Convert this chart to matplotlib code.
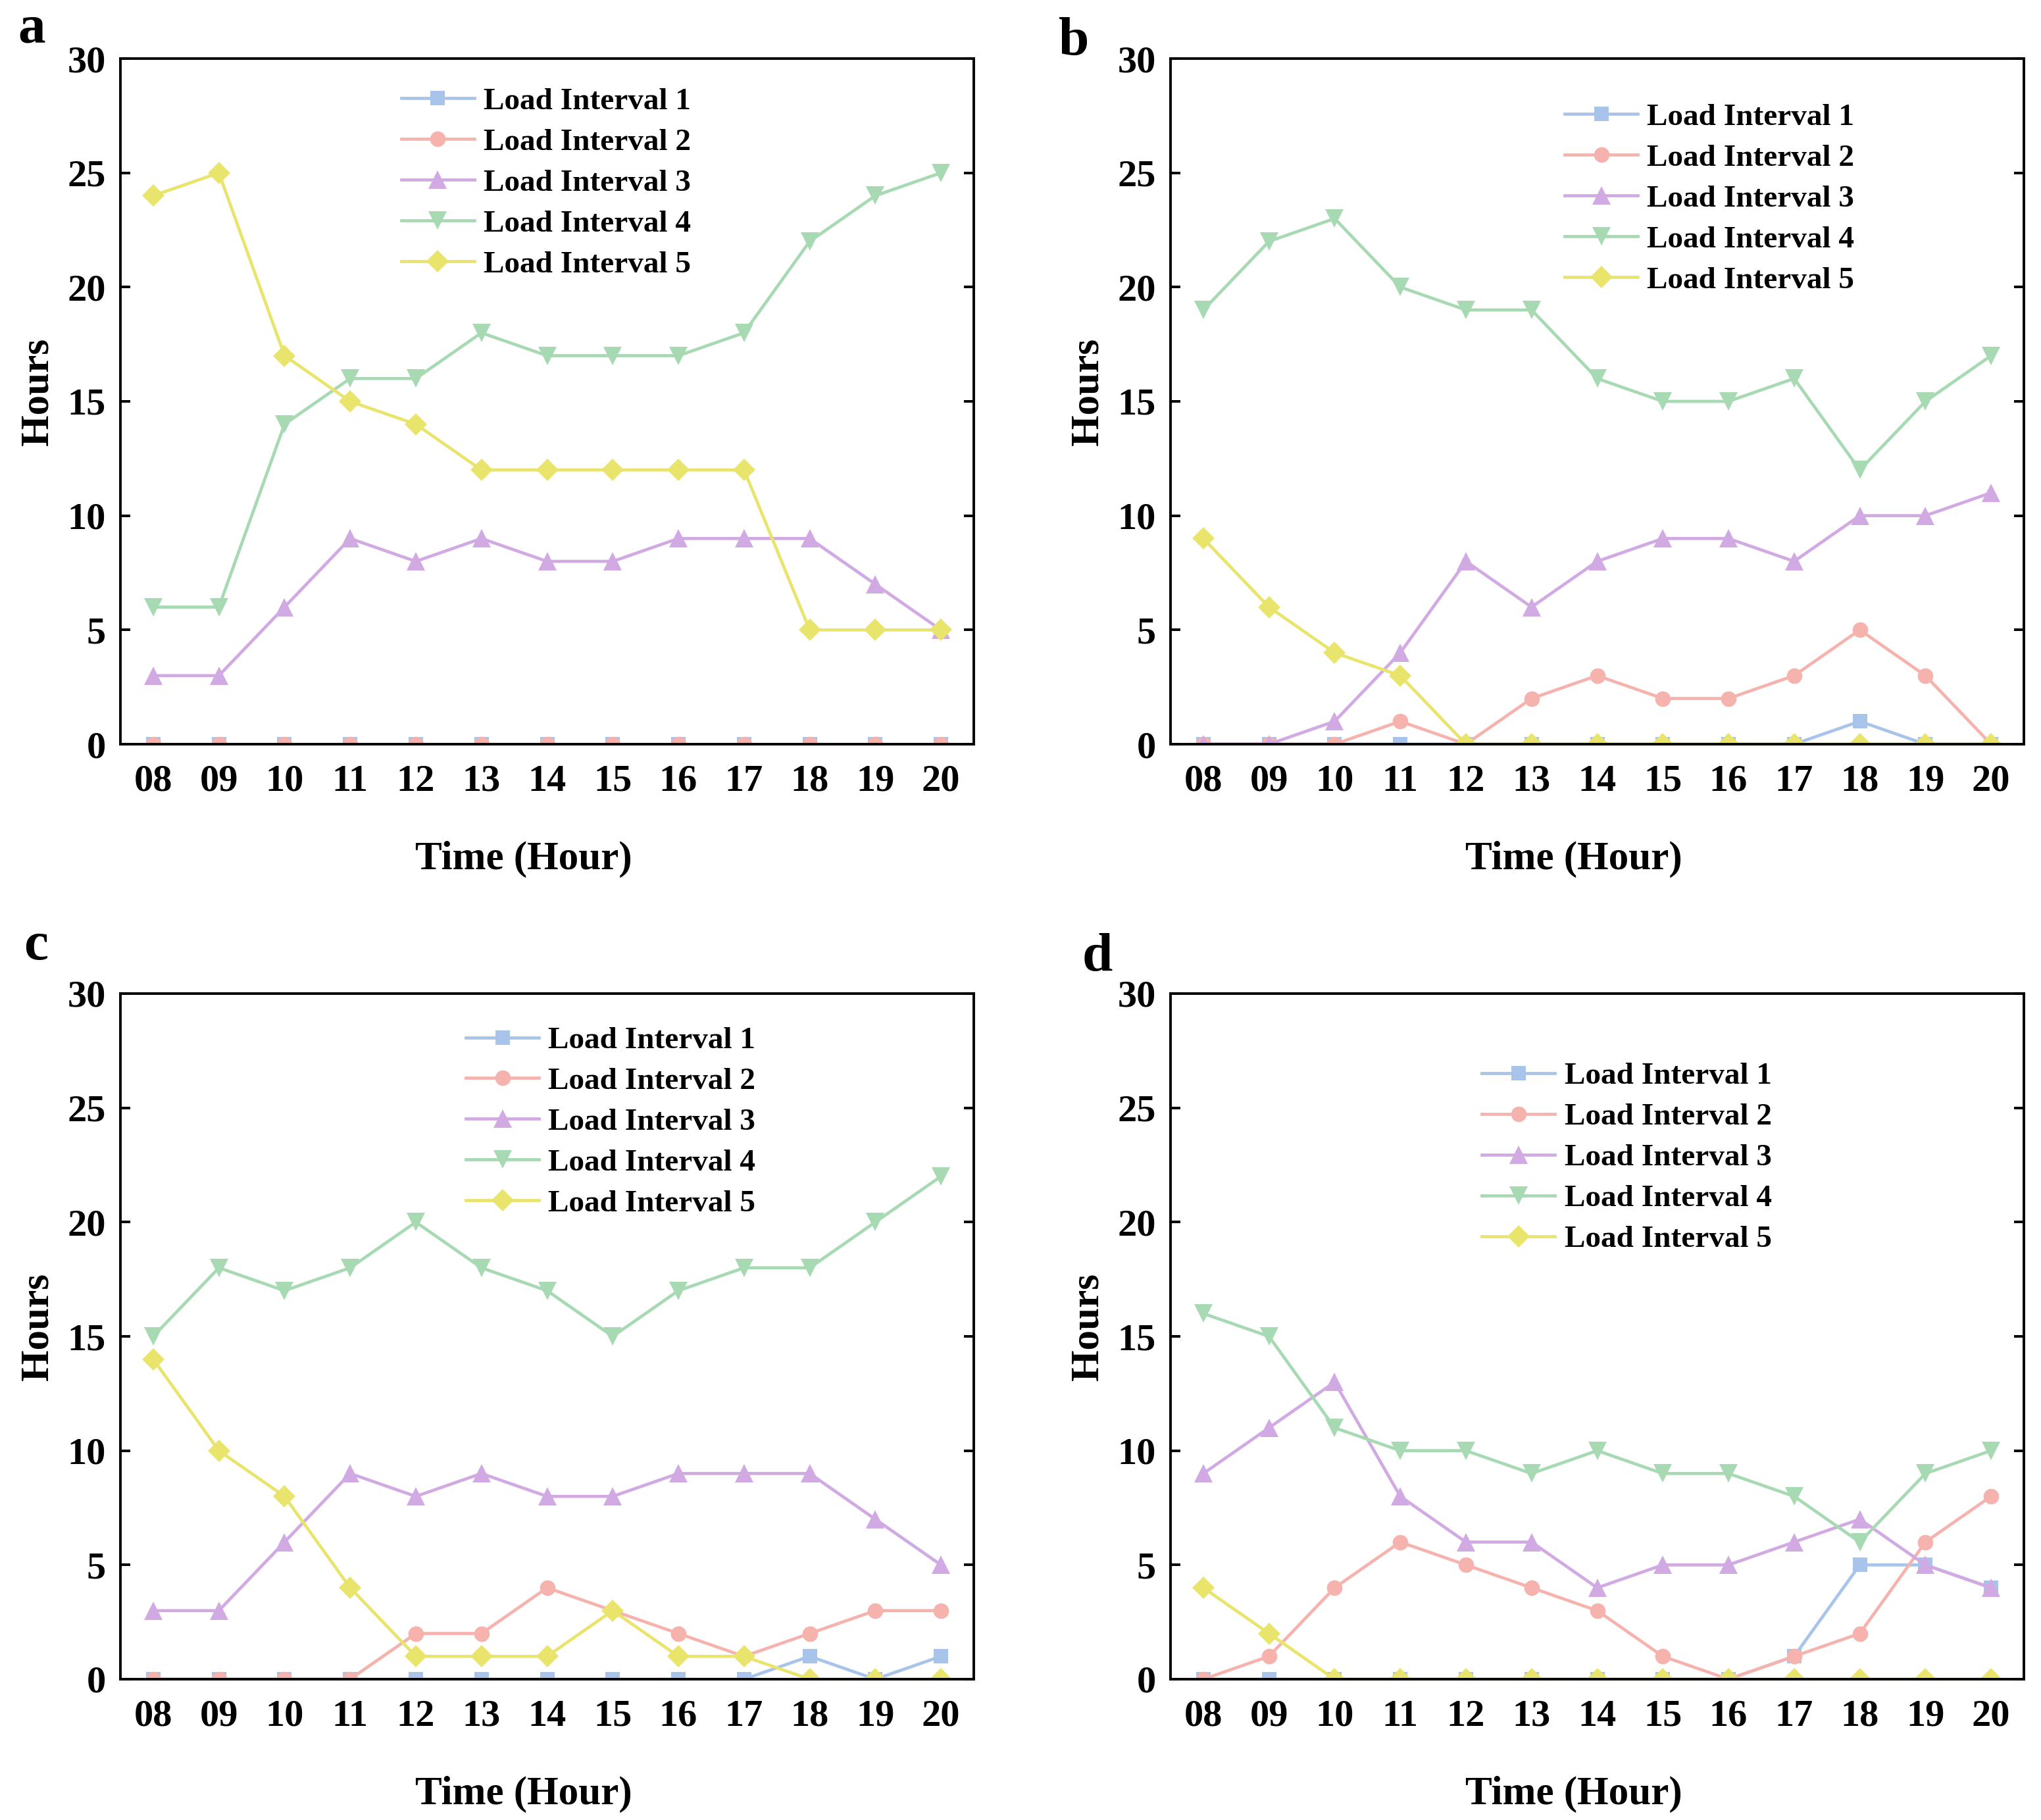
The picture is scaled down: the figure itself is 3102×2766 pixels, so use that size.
import numpy as np
import matplotlib
matplotlib.use("Agg")
import matplotlib.pyplot as plt

hours = ["08", "09", "10", "11", "12", "13", "14", "15", "16", "17", "18", "19", "20"]
series_names = ["Load Interval 1", "Load Interval 2", "Load Interval 3", "Load Interval 4", "Load Interval 5"]

a_l1 = [0, 0, 0, 0, 0, 0, 0, 0, 0, 0, 0, 0, 0]
a_l2 = [0, 0, 0, 0, 0, 0, 0, 0, 0, 0, 0, 0, 0]
a_l3 = [3, 3, 6, 9, 8, 9, 8, 8, 9, 9, 9, 7, 5]
a_l4 = [6, 6, 14, 16, 16, 18, 17, 17, 17, 18, 22, 24, 25]
a_l5 = [24, 25, 17, 15, 14, 12, 12, 12, 12, 12, 5, 5, 5]

b_l1 = [0, 0, 0, 0, 0, 0, 0, 0, 0, 0, 1, 0, 0]
b_l2 = [0, 0, 0, 1, 0, 2, 3, 2, 2, 3, 5, 3, 0]
b_l3 = [0, 0, 1, 4, 8, 6, 8, 9, 9, 8, 10, 10, 11]
b_l4 = [19, 22, 23, 20, 19, 19, 16, 15, 15, 16, 12, 15, 17]
b_l5 = [9, 6, 4, 3, 0, 0, 0, 0, 0, 0, 0, 0, 0]

c_l1 = [0, 0, 0, 0, 0, 0, 0, 0, 0, 0, 1, 0, 1]
c_l2 = [0, 0, 0, 0, 2, 2, 4, 3, 2, 1, 2, 3, 3]
c_l3 = [3, 3, 6, 9, 8, 9, 8, 8, 9, 9, 9, 7, 5]
c_l4 = [15, 18, 17, 18, 20, 18, 17, 15, 17, 18, 18, 20, 22]
c_l5 = [14, 10, 8, 4, 1, 1, 1, 3, 1, 1, 0, 0, 0]

d_l1 = [0, 0, 0, 0, 0, 0, 0, 0, 0, 1, 5, 5, 4]
d_l2 = [0, 1, 4, 6, 5, 4, 3, 1, 0, 1, 2, 6, 8]
d_l3 = [9, 11, 13, 8, 6, 6, 4, 5, 5, 6, 7, 5, 4]
d_l4 = [16, 15, 11, 10, 10, 9, 10, 9, 9, 8, 6, 9, 10]
d_l5 = [4, 2, 0, 0, 0, 0, 0, 0, 0, 0, 0, 0, 0]

panels = {
    "a": [a_l1, a_l2, a_l3, a_l4, a_l5],
    "b": [b_l1, b_l2, b_l3, b_l4, b_l5],
    "c": [c_l1, c_l2, c_l3, c_l4, c_l5],
    "d": [d_l1, d_l2, d_l3, d_l4, d_l5],
}

colors = ["#a8c4ea", "#f6b3ad", "#d1aae3", "#a7d9b3", "#e9e46c"]
markers = ["s", "o", "^", "v", "D"]
msizes = [8, 8.5, 10, 10, 8.5]

plt.rcParams["font.family"] = ["Liberation Serif", "DejaVu Serif"]
plt.rcParams["font.weight"] = "bold"

W, H = 3102, 2766
dpi = 200
fig = plt.figure(figsize=(W / dpi, H / dpi), dpi=dpi)

ax_w = 1297 / W
ax_h = 1042 / H
positions = {
    "a": (183 / W, 1 - 1131 / H),
    "b": (1779 / W, 1 - 1131 / H),
    "c": (183 / W, 1 - 2552 / H),
    "d": (1779 / W, 1 - 2552 / H),
}
legend_anchor = {
    "a": (0.329, 0.958),
    "b": (0.462, 0.935),
    "c": (0.405, 0.952),
    "d": (0.365, 0.900),
}
letter_pos = {
    "a": (48 / W, 1 - 45 / H),
    "b": (1632 / W, 1 - 63 / H),
    "c": (55 / W, 1 - 1438 / H),
    "d": (1668 / W, 1 - 1455 / H),
}

x = np.arange(len(hours))
for key, data in panels.items():
    l, b = positions[key]
    ax = fig.add_axes([l, b, ax_w, ax_h])
    for i, vals in enumerate(data):
        ax.plot(x, vals, color=colors[i], marker=markers[i], markersize=msizes[i],
                markeredgewidth=0, linewidth=1.7, label=series_names[i])
    ax.set_xlim(-0.5, 12.5)
    ax.set_ylim(0, 30)
    ax.set_xticks(x)
    ax.set_xticklabels(hours)
    ax.set_yticks(np.arange(0, 31, 5))
    ax.tick_params(axis="y", direction="in", length=5.5, width=1.4, right=True,
                   labelsize=21, pad=8)
    ax.tick_params(axis="x", length=0, labelsize=21, pad=11)
    for lab in ax.get_xticklabels() + ax.get_yticklabels():
        lab.set_fontweight("bold")
    for sp in ax.spines.values():
        sp.set_linewidth(1.4)
    ax.set_xlabel("Time (Hour)", fontsize=22, fontweight="bold", labelpad=23)
    ax.set_ylabel("Hours", fontsize=22, fontweight="bold", labelpad=6)
    ax.xaxis.label.set_x(0.4726)
    ax.yaxis.label.set_y(0.514)
    leg = ax.legend(loc="upper left", bbox_to_anchor=legend_anchor[key], frameon=False,
                    fontsize=17, handlelength=2.35, handletextpad=0.3,
                    labelspacing=0.4, borderpad=0, borderaxespad=0)
    for t in leg.get_texts():
        t.set_fontweight("bold")
    fig.text(letter_pos[key][0], letter_pos[key][1], key, fontsize=30,
             fontweight="bold", ha="center", va="center")

fig.savefig("out.png", dpi=dpi)
